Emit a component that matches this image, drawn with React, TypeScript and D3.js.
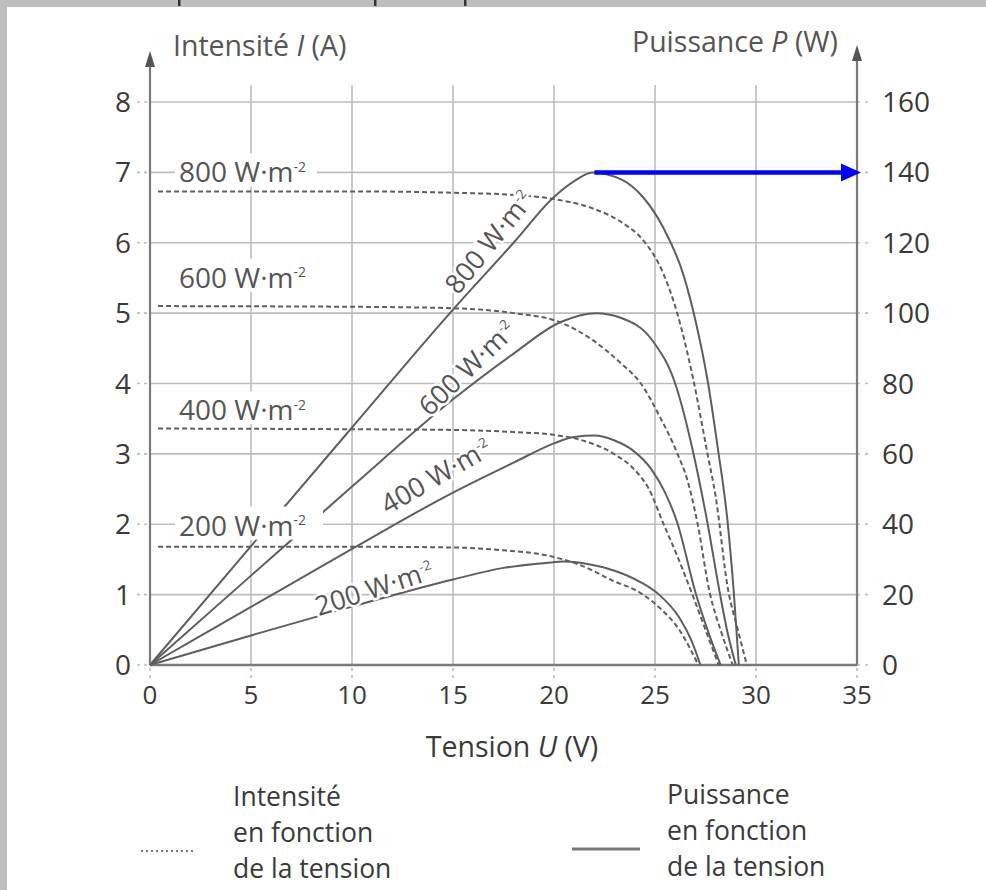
import React from 'react'
import * as d3 from 'd3'

const W = 986
const H = 890

const voltageTicks = [0, 5, 10, 15, 20, 25, 30, 35]
const currentTicks = [0, 1, 2, 3, 4, 5, 6, 7, 8]
const powerTicks = [0, 20, 40, 60, 80, 100, 120, 140, 160]
const irradiances = ['800', '600', '400', '200']

// I(U), dashed curves, [U in V, I in A]
const i800 = [[0.4, 6.73], [10, 6.73], [15, 6.71], [18, 6.68], [20, 6.62], [21.9, 6.49], [23.4, 6.28], [24.4, 6.04], [25.4, 5.57], [26.1, 5.0], [26.9, 4.05], [27.6, 3.0], [28.0, 2.4], [28.6, 1.1], [29.1, 0.5], [29.55, 0]]
const i600 = [[0.4, 5.1], [10, 5.09], [15, 5.07], [18, 5.0], [20.3, 4.87], [21.9, 4.62], [23.3, 4.29], [24.3, 4.0], [25.2, 3.55], [26.1, 3.01], [26.6, 2.63], [27.1, 2.02], [27.7, 1.04], [28.3, 0.45], [28.85, 0]]
const i400 = [[0.4, 3.36], [10, 3.35], [15, 3.34], [18, 3.31], [20, 3.27], [21.3, 3.2], [22.9, 3.01], [23.9, 2.8], [24.7, 2.5], [25.4, 2.02], [26.1, 1.55], [26.8, 1.04], [27.5, 0.5], [28.15, 0]]
const i200 = [[0.4, 1.68], [10, 1.68], [15, 1.67], [17.5, 1.63], [19.6, 1.56], [21.3, 1.42], [22.9, 1.2], [24.3, 1.02], [25.2, 0.82], [26.2, 0.5], [27.15, 0]]

// P(U), solid curves, [U in V, P in W]
const p800 = [[0, 0], [5, 33.8], [10, 67.5], [15, 101], [18, 120], [20, 133], [21, 137.5], [21.9, 140], [23.4, 137.8], [24.4, 133], [25.4, 124.4], [26.4, 111], [27.0, 98], [27.6, 81], [28.1, 62], [28.6, 40.3], [28.9, 20.7], [29.15, 0]]
const p600 = [[0, 0], [5, 25.4], [10, 50.7], [15, 75.5], [18, 88.5], [20.3, 97.4], [22.1, 100], [23.3, 98.7], [24.9, 92], [26.0, 80], [26.9, 60.2], [27.6, 40.3], [28.2, 20.7], [28.6, 9], [29.0, 0]]
const p400 = [[0, 0], [5, 16.5], [10, 33], [15, 49], [18, 57.5], [20, 63], [21, 64.8], [22, 65.2], [23, 63.8], [23.9, 61], [24.85, 55.4], [25.5, 49], [26.1, 40.5], [27.0, 20.7], [27.6, 10], [28.25, 0]]
const p200 = [[0, 0], [5, 8.4], [10, 16.6], [15, 24.3], [17.5, 27.6], [19.6, 29], [20.5, 29.4], [21.6, 28.8], [23, 26.8], [24.3, 23.5], [25.2, 20], [26.2, 13.5], [26.8, 7], [27.25, 0]]

const currentCurves = [i800, i600, i400, i200]
const powerCurves = [p800, p600, p400, p200]

// maximum power point of the 800 W/m2 curve (blue arrow)
const maxPoint = [22, 140]

const font = "'Open Sans', sans-serif"

function Unit({ v, size }: { v: string; size: number }) {
  return (
    <>
      {v} W·m
      <tspan fontSize={size * 0.5} dy={-size * 0.38}>-2</tspan>
    </>
  )
}

export default function App() {
  const x = d3.scaleLinear().domain([0, 35]).range([150, 857])
  const yI = d3.scaleLinear().domain([0, 8]).range([665, 102])
  const yP = d3.scaleLinear().domain([0, 160]).range([665, 102])

  const lineI = d3.line<number[]>().x(d => x(d[0])).y(d => yI(d[1])).curve(d3.curveMonotoneX)
  const lineP = d3.line<number[]>().x(d => x(d[0])).y(d => yP(d[1])).curve(d3.curveMonotoneX)

  const grid = '#bdbdbd'
  const axis = '#7a7a7a'
  const curve = '#5e5e5e'
  const txt = '#3a3a3a'

  // labels of the I(U) curves, placed just above each plateau (value in A)
  const iLabelAt = [7.0, 5.5, 3.62, 1.98]
  // labels along the P(U) curves: [cx, cy, angle]
  const pLabels = [[489, 242, -51], [467, 368, -44], [436, 476, -30], [374, 588, -18]]

  const [mu, mp] = maxPoint

  return (
    <svg width={W} height={H} style={{ position: 'absolute', left: 0, top: 0, background: '#fff' }} fontFamily={font}>
      {/* scan border */}
      <rect x={0} y={0} width={W} height={7} fill="#bebebe" />
      <rect x={0} y={0} width={7} height={H} fill="#bebebe" />
      {[178, 374, 464].map(v => <rect key={v} x={v} y={0} width={2.5} height={6} fill="#333" />)}

      {/* grid */}
      {voltageTicks.slice(1, -1).map(v => (
        <line key={'gv' + v} x1={x(v)} x2={x(v)} y1={85} y2={665} stroke={grid} strokeWidth={1.6} />
      ))}
      {currentTicks.slice(1).map(v => (
        <line key={'gh' + v} x1={x(0)} x2={x(35)} y1={yI(v)} y2={yI(v)} stroke={grid} strokeWidth={1.6} />
      ))}

      {/* small ticks */}
      {currentTicks.map(v => (
        <line key={'tl' + v} x1={137} x2={x(0)} y1={yI(v)} y2={yI(v)} stroke={grid} strokeWidth={1.6} strokeDasharray="3 4" />
      ))}
      {powerTicks.map(v => (
        <line key={'tr' + v} x1={x(35)} x2={x(35) + 15} y1={yP(v)} y2={yP(v)} stroke={grid} strokeWidth={1.6} strokeDasharray="3 5" />
      ))}
      {voltageTicks.map(v => (
        <line key={'tb' + v} x1={x(v)} x2={x(v)} y1={668} y2={680} stroke={grid} strokeWidth={1.6} strokeDasharray="3 4" />
      ))}

      {/* axes */}
      <line x1={x(0)} x2={x(35)} y1={yI(0)} y2={yI(0)} stroke={axis} strokeWidth={2.4} />
      <line x1={x(0)} x2={x(0)} y1={yI(0)} y2={60} stroke={axis} strokeWidth={2.2} />
      <polygon points={`${x(0)},51 ${x(0) - 5},67 ${x(0) + 5},67`} fill="#555" />
      <line x1={x(35)} x2={x(35)} y1={yI(0)} y2={54} stroke={axis} strokeWidth={2.2} />
      <polygon points={`${x(35)},45 ${x(35) - 5},61 ${x(35) + 5},61`} fill="#555" />

      {/* I(U) dashed */}
      {currentCurves.map((d, k) => (
        <path key={'i' + k} d={lineI(d) || ''} fill="none" stroke={curve} strokeWidth={2} strokeDasharray="5 3" />
      ))}
      {/* P(U) solid */}
      {powerCurves.map((d, k) => (
        <path key={'p' + k} d={lineP(d) || ''} fill="none" stroke={curve} strokeWidth={2} />
      ))}

      {/* I(U) labels */}
      {irradiances.map((v, k) => (
        <g key={'il' + v}>
          <rect x={175} y={yI(iLabelAt[k]) - 19} width={v === '200' ? 148 : 142} height={33} fill="#fff" />
          <text x={179} y={yI(iLabelAt[k])} dy="0.36em" fontSize={28} fill="#555">
            <Unit v={v} size={28} />
          </text>
        </g>
      ))}
      {/* P(U) labels */}
      {irradiances.map((v, k) => (
        <text key={'pl' + v} transform={`translate(${pLabels[k][0]},${pLabels[k][1]}) rotate(${pLabels[k][2]})`}
          textAnchor="middle" dy="0.36em" fontSize={27} fill="#555" stroke="#fff" strokeWidth={5} paintOrder="stroke">
          <Unit v={v} size={27} />
        </text>
      ))}

      {/* tick labels */}
      {currentTicks.map(v => (
        <text key={'ly' + v} x={131} y={yI(v)} dy="0.36em" textAnchor="end" fontSize={28} fill={txt}>{v}</text>
      ))}
      {powerTicks.map(v => (
        <text key={'ry' + v} x={882} y={yP(v)} dy="0.36em" fontSize={28} fill={txt}>{v}</text>
      ))}
      {voltageTicks.map(v => (
        <text key={'bx' + v} x={x(v)} y={704} textAnchor="middle" fontSize={26} fill={txt}>{v}</text>
      ))}

      {/* axis titles */}
      <text x={173} y={56} fontSize={28.5} fill="#555">
        Intensité <tspan fontStyle="italic">I</tspan> (A)
      </text>
      <text x={632} y={52} fontSize={28.5} fill="#555">
        Puissance <tspan fontStyle="italic">P</tspan> (W)
      </text>
      <text x={512} y={757} textAnchor="middle" fontSize={28.5} fill={txt}>
        Tension <tspan fontStyle="italic">U</tspan> (V)
      </text>

      {/* maximum power arrow */}
      <line x1={x(mu)} x2={x(35) - 14} y1={yP(mp)} y2={yP(mp)} stroke="#0000ff" strokeWidth={4.5} />
      <polygon points={`${x(35) + 4},${yP(mp)} ${x(35) - 16},${yP(mp) - 9} ${x(35) - 16},${yP(mp) + 9}`} fill="#0000ff" />

      {/* legend */}
      <line x1={141} x2={196} y1={851} y2={851} stroke="#777" strokeWidth={2} strokeDasharray="2 3" />
      <text fontSize={26.5} fill={txt}>
        <tspan x={233} y={806}>Intensité</tspan>
        <tspan x={233} y={842}>en fonction</tspan>
        <tspan x={233} y={878}>de la tension</tspan>
      </text>
      <line x1={572} x2={640} y1={849} y2={849} stroke="#777" strokeWidth={3} />
      <text fontSize={26.5} fill={txt}>
        <tspan x={667} y={804}>Puissance</tspan>
        <tspan x={667} y={840}>en fonction</tspan>
        <tspan x={667} y={876}>de la tension</tspan>
      </text>
    </svg>
  )
}
